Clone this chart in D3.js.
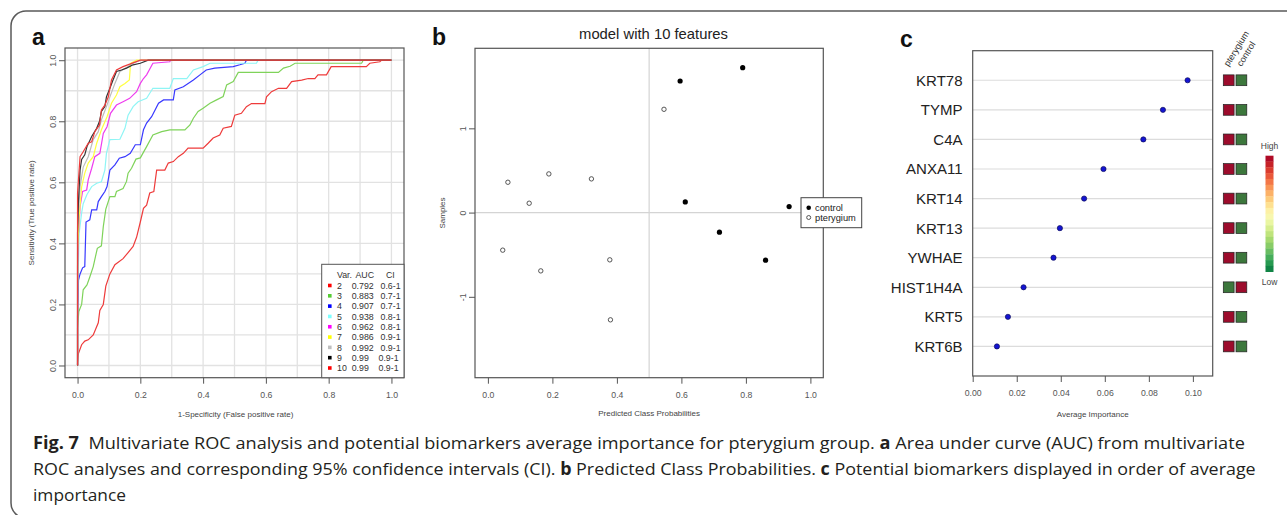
<!DOCTYPE html>
<html>
<head>
<meta charset="utf-8">
<script src="https://cdn.jsdelivr.net/npm/d3@7"></script>
<style>
  body { margin: 0; background: #fff; }
  text { font-family: "Liberation Sans", Arial, sans-serif; }
  .cap { font-family: "Open Sans", "Noto Sans", sans-serif; }
</style>
</head>
<body>
<div class="chart"></div>
<script>
// ---- panel a : ROC curves (fpr, tpr) ----
var rocVars = ["2", "3", "4", "5", "6", "7", "8", "9", "10"];
var rocAUC = ["0.792", "0.883", "0.907", "0.938", "0.962", "0.986", "0.992", "0.99", "0.99"];
var rocCI = ["0.6-1", "0.7-1", "0.7-1", "0.8-1", "0.8-1", "0.9-1", "0.9-1", "0.9-1", "0.9-1"];

var roc2 = [[0,0],[0,0.01],[0.003,0.04],[0.013,0.068],[0.023,0.08],[0.034,0.084],[0.05,0.1],[0.066,0.14],
  [0.071,0.18],[0.082,0.2],[0.09,0.26],[0.103,0.3],[0.119,0.33],[0.145,0.35],[0.161,0.37],[0.177,0.39],
  [0.188,0.42],[0.2,0.47],[0.21,0.515],[0.22,0.525],[0.23,0.565],[0.243,0.57],[0.252,0.64],[0.278,0.64],
  [0.289,0.663],[0.305,0.668],[0.321,0.684],[0.337,0.695],[0.352,0.712],[0.4,0.712],[0.416,0.728],
  [0.432,0.745],[0.453,0.755],[0.464,0.777],[0.49,0.783],[0.501,0.82],[0.522,0.826],[0.538,0.848],
  [0.554,0.858],[0.597,0.858],[0.602,0.88],[0.618,0.897],[0.64,0.908],[0.666,0.908],[0.682,0.93],
  [0.714,0.935],[0.735,0.94],[0.756,0.94],[0.766,0.952],[0.793,0.952],[0.808,0.979],[0.92,0.979],
  [0.931,0.99],[0.963,0.995],[0.968,1],[1,1]];
var roc3 = [[0,0],[0,0.122],[0.004,0.177],[0.013,0.2],[0.018,0.248],[0.03,0.264],[0.039,0.29],[0.05,0.324],
  [0.063,0.384],[0.076,0.392],[0.082,0.455],[0.09,0.512],[0.103,0.553],[0.119,0.553],[0.124,0.57],
  [0.145,0.58],[0.156,0.603],[0.161,0.63],[0.172,0.646],[0.186,0.676],[0.2,0.68],[0.22,0.717],[0.24,0.755],
  [0.268,0.766],[0.294,0.772],[0.342,0.772],[0.358,0.788],[0.369,0.81],[0.384,0.832],[0.4,0.843],
  [0.422,0.859],[0.443,0.87],[0.464,0.881],[0.475,0.919],[0.496,0.93],[0.512,0.96],[0.64,0.96],
  [0.656,0.974],[0.677,0.98],[0.693,0.99],[0.905,0.99],[0.91,1],[1,1]];
var roc4 = [[0,0],[0,0.16],[0.003,0.28],[0.008,0.3],[0.016,0.32],[0.023,0.324],[0.027,0.47],[0.039,0.477],
  [0.045,0.51],[0.061,0.51],[0.066,0.537],[0.076,0.553],[0.087,0.57],[0.094,0.586],[0.103,0.64],
  [0.119,0.657],[0.133,0.679],[0.151,0.684],[0.168,0.695],[0.184,0.723],[0.2,0.723],[0.21,0.772],
  [0.22,0.794],[0.236,0.815],[0.247,0.837],[0.258,0.859],[0.274,0.87],[0.305,0.87],[0.31,0.903],
  [0.337,0.913],[0.369,0.935],[0.39,0.952],[0.41,0.968],[0.437,0.974],[0.496,0.979],[0.517,0.985],
  [0.533,0.99],[0.538,1],[1,1]];
var roc5 = [[0,0],[0,0.215],[0.005,0.433],[0.013,0.5],[0.018,0.53],[0.03,0.56],[0.045,0.586],[0.061,0.597],
  [0.076,0.602],[0.087,0.64],[0.092,0.695],[0.103,0.74],[0.135,0.741],[0.151,0.777],[0.161,0.82],
  [0.177,0.848],[0.193,0.864],[0.22,0.875],[0.24,0.908],[0.294,0.908],[0.305,0.94],[0.348,0.94],
  [0.369,0.968],[0.4,0.979],[0.422,0.99],[0.57,0.99],[0.575,1],[1,1]];
var roc6 = [[0,0],[0,0.324],[0.003,0.433],[0.008,0.52],[0.016,0.57],[0.029,0.575],[0.034,0.608],
  [0.045,0.646],[0.055,0.684],[0.071,0.695],[0.082,0.76],[0.094,0.782],[0.105,0.826],[0.124,0.853],
  [0.145,0.864],[0.166,0.875],[0.188,0.897],[0.2,0.924],[0.21,0.94],[0.22,0.952],[0.24,0.99],
  [0.294,0.995],[0.296,1],[1,1]];
var roc7 = [[0,0],[0,0.368],[0.005,0.487],[0.013,0.585],[0.023,0.63],[0.034,0.663],[0.05,0.684],
  [0.061,0.728],[0.076,0.772],[0.094,0.815],[0.108,0.859],[0.124,0.886],[0.135,0.913],[0.151,0.924],
  [0.165,0.935],[0.169,0.99],[0.188,1],[1,1]];
var roc8 = [[0,0],[0,0.455],[0.008,0.585],[0.018,0.65],[0.034,0.684],[0.05,0.74],[0.066,0.766],
  [0.076,0.805],[0.092,0.848],[0.103,0.88],[0.119,0.924],[0.135,0.963],[0.161,0.979],[0.177,0.99],
  [0.2,1],[1,1]];
var roc9 = [[0,0],[0,0.433],[0.003,0.54],[0.008,0.64],[0.013,0.675],[0.023,0.69],[0.03,0.717],
  [0.045,0.75],[0.061,0.777],[0.07,0.8],[0.076,0.832],[0.087,0.848],[0.092,0.88],[0.103,0.908],
  [0.113,0.935],[0.124,0.963],[0.14,0.968],[0.156,0.974],[0.177,0.985],[0.2,0.99],[0.225,1],[1,1]];
var roc10 = [[0,0],[0,0.565],[0.008,0.684],[0.018,0.7],[0.034,0.728],[0.045,0.733],[0.055,0.766],
  [0.07,0.788],[0.076,0.837],[0.087,0.853],[0.098,0.88],[0.108,0.935],[0.124,0.968],[0.145,0.979],
  [0.2,1],[1,1]];
var rocCurves = [roc2, roc3, roc4, roc5, roc6, roc7, roc8, roc9, roc10];

// ---- panel b : predicted class probabilities ----
var bProb = [0.596, 0.79, 0.612, 0.934, 0.718, 0.861,
  0.546, 0.062, 0.189, 0.321, 0.128, 0.046, 0.164, 0.378, 0.38];
var bSample = [1.562, 1.72, 0.127, 0.071, -0.233, -0.565,
  1.226, 0.36, 0.459, 0.40, 0.111, -0.446, -0.692, -0.561, -1.273];
var bClass = ["control", "control", "control", "control", "control", "control",
  "pterygium", "pterygium", "pterygium", "pterygium", "pterygium", "pterygium",
  "pterygium", "pterygium", "pterygium"];

// ---- panel c : average importance ----
var cGenes = ["KRT78", "TYMP", "C4A", "ANXA11", "KRT14", "KRT13", "YWHAE", "HIST1H4A", "KRT5", "KRT6B"];
var cImportance = [0.0976, 0.0864, 0.0775, 0.0594, 0.0506, 0.0396, 0.0367, 0.0231, 0.016, 0.011];
var cPterygium = ["high", "high", "high", "high", "high", "high", "high", "low", "high", "high"];
var cControl = ["low", "low", "low", "low", "low", "low", "low", "high", "low", "low"];

// styles
var rocColors = ["#ee3b3b", "#7fd35a", "#3838ff", "#8ff5f5", "#ee3cee", "#ffff40", "#bcbcbc", "#333333", "#ee3b3b"];
var keyColors = ["#ff0000", "#55cc33", "#0000ff", "#80ffff", "#ff00ff", "#ffff00", "#bebebe", "#000000", "#ff0000"];
var heatColor = { high: "#9c0c2c", low: "#3c773c" };

var svg = d3.select(".chart").append("svg")
  .attr("width", 1287)
  .attr("height", 515);

svg.append("rect").attr("width", 1287).attr("height", 515).attr("fill", "#fff");

// outer figure frame
svg.append("rect")
  .attr("x", 11).attr("y", 11)
  .attr("width", 1320).attr("height", 507)
  .attr("rx", 15)
  .attr("fill", "none")
  .attr("stroke", "#5a5a5a")
  .attr("stroke-width", 1.5);

function panelLetter(x, y, t) {
  svg.append("text").attr("x", x).attr("y", y)
    .attr("font-size", 23).attr("font-weight", "bold").attr("fill", "#111")
    .text(t);
}

function styleAxis(g) {
  g.select(".domain").remove();
  g.selectAll("line").attr("stroke", "#555");
  g.selectAll("text").attr("fill", "#555").attr("font-size", 8.7)
    .attr("font-family", "Liberation Sans, Arial, sans-serif");
}

function rotateYLabels(g) {
  g.selectAll("text")
    .attr("transform", "rotate(-90)")
    .attr("x", 0).attr("y", -9).attr("dy", 0)
    .attr("text-anchor", "middle");
}

function frame(x0, y0, x1, y1) {
  svg.append("rect")
    .attr("x", x0).attr("y", y0)
    .attr("width", x1 - x0).attr("height", y1 - y0)
    .attr("fill", "none").attr("stroke", "#555").attr("stroke-width", 1.2);
}

// ================= panel a =================
var aL = 65, aR = 404, aT = 48, aB = 377.7;
var xA = d3.scaleLinear().domain([-0.04, 1.04]).range([aL, aR]);
var yA = d3.scaleLinear().domain([-0.04, 1.04]).range([aB, aT]);

var gridA = svg.append("g").attr("stroke", "#e2e2e2").attr("stroke-width", 1.3);
d3.range(0, 11).forEach(function(i) {
  var v = i / 10;
  gridA.append("line").attr("x1", xA(v)).attr("x2", xA(v)).attr("y1", aT).attr("y2", aB);
  gridA.append("line").attr("x1", aL).attr("x2", aR).attr("y1", yA(v)).attr("y2", yA(v));
});

var rocLine = d3.line()
  .x(d => xA(d[0]))
  .y(d => yA(d[1]));

svg.append("g").selectAll("path")
  .data(rocCurves)
  .enter()
  .append("path")
  .attr("d", rocLine)
  .attr("fill", "none")
  .attr("stroke", (d, i) => rocColors[i])
  .attr("stroke-width", 1.2);

svg.append("g")
  .attr("transform", `translate(0, ${aB})`)
  .call(d3.axisBottom(xA).tickValues([0, 0.2, 0.4, 0.6, 0.8, 1]).tickFormat(d3.format(".1f")).tickSize(6).tickPadding(8))
  .call(styleAxis);

svg.append("g")
  .attr("transform", `translate(${aL}, 0)`)
  .call(d3.axisLeft(yA).tickValues([0, 0.2, 0.4, 0.6, 0.8, 1]).tickFormat(d3.format(".1f")).tickSize(6))
  .call(styleAxis)
  .call(rotateYLabels);

frame(aL, aT, aR, aB);

svg.append("text")
  .attr("x", (aL + aR) / 2 + 1).attr("y", 417)
  .attr("text-anchor", "middle").attr("font-size", 8).attr("fill", "#444")
  .text("1-Specificity (False positive rate)");

svg.append("text")
  .attr("transform", `translate(34, ${(aT + aB) / 2}) rotate(-90)`)
  .attr("text-anchor", "middle").attr("font-size", 8).attr("fill", "#444")
  .text("Sensitivity (True positive rate)");

// legend a
var legA = svg.append("g");
legA.append("rect")
  .attr("x", 321.7).attr("y", 264.3).attr("width", aR - 321.7).attr("height", aB - 264.3)
  .attr("fill", "#fff").attr("stroke", "#555").attr("stroke-width", 1);
legA.append("text").attr("x", 337).attr("y", 278.3).attr("font-size", 8.8).attr("fill", "#333").text("Var.");
legA.append("text").attr("x", 355.5).attr("y", 278.3).attr("font-size", 8.8).attr("fill", "#333").text("AUC");
legA.append("text").attr("x", 386).attr("y", 278.3).attr("font-size", 8.8).attr("fill", "#333").text("CI");
var legRowY = d3.scaleLinear().domain([0, 8]).range([285.5, 368]);
rocVars.forEach(function(v, i) {
  var y = legRowY(i);
  legA.append("rect").attr("x", 328).attr("y", y - 1.8).attr("width", 3.6).attr("height", 3.6)
    .attr("fill", keyColors[i]);
  legA.append("text").attr("x", 337).attr("y", y + 3.2).attr("font-size", 8.8).attr("fill", "#333").text(v);
  legA.append("text").attr("x", 351.7).attr("y", y + 3.2).attr("font-size", 8.8).attr("fill", "#333").text(rocAUC[i]);
  legA.append("text").attr("x", rocAUC[i].length < 5 ? 378.5 : 380.5).attr("y", y + 3.2)
    .attr("font-size", 8.8).attr("fill", "#333").text(rocCI[i]);
});

panelLetter(32, 45, "a");

// ================= panel b =================
var bL = 475, bR = 823.3, bT = 48.3, bB = 377.7;
var xB = d3.scaleLinear().domain([-0.04, 1.04]).range([bL, bR]);
var yB = d3.scaleLinear().domain([-1.96, 1.95]).range([bB, bT]);

svg.append("line").attr("x1", xB(0.5)).attr("x2", xB(0.5)).attr("y1", bT).attr("y2", bB)
  .attr("stroke", "#d4d4d4").attr("stroke-width", 1.2);
svg.append("line").attr("x1", bL).attr("x2", bR).attr("y1", yB(0)).attr("y2", yB(0))
  .attr("stroke", "#d4d4d4").attr("stroke-width", 1.2);

svg.append("g")
  .attr("transform", `translate(0, ${bB})`)
  .call(d3.axisBottom(xB).tickValues([0, 0.2, 0.4, 0.6, 0.8, 1]).tickFormat(d3.format(".1f")).tickSize(6).tickPadding(8))
  .call(styleAxis);

svg.append("g")
  .attr("transform", `translate(${bL}, 0)`)
  .call(d3.axisLeft(yB).tickValues([-1, 0, 1]).tickFormat(d => String(d)).tickSize(6))
  .call(styleAxis)
  .call(rotateYLabels);

svg.append("g").selectAll("circle")
  .data(bProb)
  .enter()
  .append("circle")
  .attr("cx", d => xB(d))
  .attr("cy", (d, i) => yB(bSample[i]))
  .attr("r", (d, i) => bClass[i] === "control" ? 2.6 : 2.2)
  .attr("fill", (d, i) => bClass[i] === "control" ? "#000" : "#fff")
  .attr("stroke", (d, i) => bClass[i] === "control" ? "none" : "#444")
  .attr("stroke-width", 0.9);

frame(bL, bT, bR, bB);

svg.append("text")
  .attr("x", 653.5).attr("y", 39)
  .attr("text-anchor", "middle").attr("font-size", 14.8).attr("fill", "#222")
  .text("model with 10 features");

svg.append("text")
  .attr("x", (bL + bR) / 2).attr("y", 416)
  .attr("text-anchor", "middle").attr("font-size", 8).attr("fill", "#444")
  .text("Predicted Class Probabilities");

svg.append("text")
  .attr("transform", `translate(444.5, ${(bT + bB) / 2}) rotate(-90)`)
  .attr("text-anchor", "middle").attr("font-size", 8).attr("fill", "#444")
  .text("Samples");

// legend b
var legB = svg.append("g");
legB.append("rect").attr("x", 801).attr("y", 197.7).attr("width", 60.7).attr("height", 30)
  .attr("fill", "#fff").attr("stroke", "#444").attr("stroke-width", 1);
legB.append("circle").attr("cx", 808.7).attr("cy", 207.7).attr("r", 2.3).attr("fill", "#000");
legB.append("circle").attr("cx", 808.7).attr("cy", 217.5).attr("r", 2).attr("fill", "#fff")
  .attr("stroke", "#444").attr("stroke-width", 0.9);
legB.append("text").attr("x", 815).attr("y", 211).attr("font-size", 9.3).attr("fill", "#222").text("control");
legB.append("text").attr("x", 815).attr("y", 220.8).attr("font-size", 9.3).attr("fill", "#222").text("pterygium");

panelLetter(432, 45, "b");

// ================= panel c =================
var cL = 972.7, cR = 1212.7, cT = 50.7, cB = 376;
var xC = d3.scaleLinear().domain([0, 0.109]).range([cL, cR]);
var yC = d3.scaleLinear().domain([0, 11]).range([cB, cT]);
var rowC = (d, i) => yC(cGenes.length - i);

svg.append("g").selectAll("line")
  .data(cGenes)
  .enter()
  .append("line")
  .attr("x1", cL).attr("x2", cR)
  .attr("y1", rowC).attr("y2", rowC)
  .attr("stroke", "#dcdcdc").attr("stroke-width", 1.2);

svg.append("g")
  .attr("transform", `translate(0, ${cB})`)
  .call(d3.axisBottom(xC).tickValues([0, 0.02, 0.04, 0.06, 0.08, 0.1]).tickFormat(d3.format(".2f")).tickSize(6).tickPadding(8))
  .call(styleAxis);

frame(cL, cT, cR, cB);

svg.append("g").selectAll("circle")
  .data(cImportance)
  .enter()
  .append("circle")
  .attr("cx", d => xC(d))
  .attr("cy", rowC)
  .attr("r", 2.6)
  .attr("fill", "#1414d2")
  .attr("stroke", "#10105a")
  .attr("stroke-width", 0.7);

svg.append("g").selectAll("text")
  .data(cGenes)
  .enter()
  .append("text")
  .attr("x", 962.5)
  .attr("y", (d, i) => rowC(d, i) + 5.4)
  .attr("text-anchor", "end")
  .attr("font-size", 15)
  .attr("fill", "#222")
  .text(d => d);

svg.append("text")
  .attr("x", (cL + cR) / 2).attr("y", 417)
  .attr("text-anchor", "middle").attr("font-size", 8).attr("fill", "#444")
  .text("Average Importance");

// heat squares
var heatCols = [cPterygium, cControl];
var heatX = [1223.3, 1236];
heatCols.forEach(function(col, j) {
  svg.append("g").selectAll("rect")
    .data(col)
    .enter()
    .append("rect")
    .attr("x", heatX[j])
    .attr("y", (d, i) => rowC(d, i) - 5.4)
    .attr("width", 10.8)
    .attr("height", 10.8)
    .attr("fill", d => heatColor[d])
    .attr("stroke", "#222")
    .attr("stroke-width", 0.7);
});

svg.append("text")
  .attr("transform", "translate(1228.5, 67) rotate(-58)")
  .attr("font-size", 9).attr("fill", "#333").text("pterygium");
svg.append("text")
  .attr("transform", "translate(1241.5, 67) rotate(-58)")
  .attr("font-size", 9).attr("fill", "#333").text("control");

// colour key
var keySteps = d3.range(20);
var keyY = d3.scaleBand().domain(keySteps).range([155.7, 271.7]);
svg.append("g").selectAll("rect")
  .data(keySteps)
  .enter()
  .append("rect")
  .attr("x", 1265.5)
  .attr("y", d => keyY(d))
  .attr("width", 8)
  .attr("height", keyY.bandwidth() + 0.3)
  .attr("fill", d => d3.interpolateRdYlGn(0.02 + d / 19 * 0.92));
svg.append("text").attr("x", 1269.5).attr("y", 148.8).attr("text-anchor", "middle")
  .attr("font-size", 8.5).attr("fill", "#444").text("High");
svg.append("text").attr("x", 1269.5).attr("y", 284.8).attr("text-anchor", "middle")
  .attr("font-size", 8.5).attr("fill", "#444").text("Low");

panelLetter(900, 47, "c");

// ================= caption =================
var capLines = [
  { y: 449, w: 1212, parts: [["Fig. 7", true], ["  Multivariate ROC analysis and potential biomarkers average importance for pterygium group. ", false], ["a", true], [" Area under curve (AUC) from multivariate", false]] },
  { y: 475, w: 1224, parts: [["ROC analyses and corresponding 95% confidence intervals (CI). ", false], ["b", true], [" Predicted Class Probabilities. ", false], ["c", true], [" Potential biomarkers displayed in order of average", false]] },
  { y: 501, w: 93, parts: [["importance", false]] }
];

capLines.forEach(function(line) {
  var t = svg.append("text")
    .attr("class", "cap")
    .attr("x", 0).attr("y", 0)
    .attr("font-size", 17)
    .attr("fill", "#231f20")
    .attr("xml:space", "preserve")
    .style("white-space", "pre");
  line.parts.forEach(function(p) {
    t.append("tspan")
      .attr("font-weight", p[1] ? "bold" : "normal")
      .text(p[0]);
  });
  var natural = t.node().getComputedTextLength();
  var s = line.w / natural;
  t.attr("transform", `translate(33, ${line.y}) scale(${s}, 1)`);
});
</script>
</body>
</html>
